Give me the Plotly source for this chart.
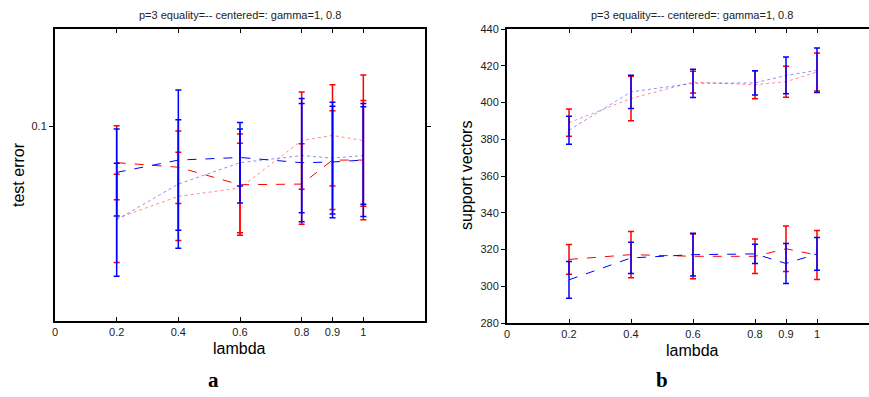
import plotly.graph_objects as go

lam = [0.2, 0.4, 0.6, 0.8, 0.9, 1.0]
xtick_vals = [0, 0.2, 0.4, 0.6, 0.8, 0.9, 1]
xtick_text = ["0", "0.2", "0.4", "0.6", "0.8", "0.9", "1"]

# (a) test error
err_red_eq = [0.0944, 0.0937, 0.0910, 0.0911, 0.0948, 0.0948]
err_red_eq_sd = [0.0057, 0.0056, 0.0078, 0.0062, 0.0076, 0.0092]
err_red_ce = [0.0858, 0.0892, 0.0905, 0.0978, 0.0986, 0.0978]
err_red_ce_sd = [0.0068, 0.0068, 0.0069, 0.0075, 0.0078, 0.0101]
err_blue_eq = [0.0929, 0.0948, 0.0952, 0.0944, 0.0945, 0.0948]
err_blue_eq_sd = [0.0067, 0.0108, 0.0044, 0.0091, 0.0086, 0.0087]
err_blue_ce = [0.0856, 0.0911, 0.0944, 0.0955, 0.0951, 0.0955]
err_blue_ce_sd = [0.0087, 0.0099, 0.0062, 0.0088, 0.0086, 0.0075]

# (b) support vectors
sv_red_eq = [314.6, 317.2, 316.3, 316.3, 320.4, 317.0]
sv_red_eq_sd = [8.1, 12.6, 12.2, 9.4, 12.4, 13.3]
sv_red_ce = [389.0, 402.2, 411.1, 409.7, 411.3, 416.6]
sv_red_ce_sd = [7.4, 12.1, 5.9, 7.6, 8.4, 10.3]
sv_blue_eq = [303.5, 315.4, 317.2, 317.6, 312.4, 317.6]
sv_blue_eq_sd = [10.0, 8.5, 11.6, 5.2, 10.9, 8.9]
sv_blue_ce = [384.9, 405.8, 410.4, 410.7, 414.7, 417.5]
sv_blue_ce_sd = [7.6, 9.0, 7.7, 6.6, 10.0, 12.1]

RED = "#ff0000"
BLUE = "#0000ff"
RED_LIGHT = "rgba(255,0,0,0.45)"
BLUE_LIGHT = "rgba(0,0,255,0.45)"

fig = go.Figure()


def add_series(y, sd, color, linecolor, dash, xa, ya):
    fig.add_trace(go.Scatter(
        x=lam, y=y, mode="lines", xaxis=xa, yaxis=ya,
        line=dict(color=linecolor, width=1, dash=dash),
        error_y=dict(type="data", array=sd, symmetric=True, color=color,
                     thickness=1.5, width=3),
        showlegend=False, hoverinfo="skip"))


add_series(err_red_ce, err_red_ce_sd, RED, RED_LIGHT, "dot", "x", "y")
add_series(err_red_eq, err_red_eq_sd, RED, RED, "dash", "x", "y")
add_series(err_blue_ce, err_blue_ce_sd, BLUE, BLUE_LIGHT, "dot", "x", "y")
add_series(err_blue_eq, err_blue_eq_sd, BLUE, BLUE, "dash", "x", "y")

add_series(sv_red_ce, sv_red_ce_sd, RED, RED_LIGHT, "dot", "x2", "y2")
add_series(sv_red_eq, sv_red_eq_sd, RED, RED, "dash", "x2", "y2")
add_series(sv_blue_ce, sv_blue_ce_sd, BLUE, BLUE_LIGHT, "dot", "x2", "y2")
add_series(sv_blue_eq, sv_blue_eq_sd, BLUE, BLUE, "dash", "x2", "y2")

W, H = 869, 397


def fx(px):
    return px / W


def fy(py):
    return 1 - py / H


tickfont = dict(family="Liberation Sans, Arial, sans-serif", size=11, color="#222")

xcommon = dict(tickmode="array", tickvals=xtick_vals, ticktext=xtick_text,
               showgrid=False, zeroline=False, showline=True, linecolor="black",
               linewidth=2, mirror="ticks", ticks="inside", ticklen=4,
               tickcolor="black", tickfont=tickfont)

fig.update_layout(
    width=W, height=H, autosize=False,
    margin=dict(l=0, r=0, t=0, b=0, autoexpand=False),
    paper_bgcolor="white", plot_bgcolor="white",
    hovermode=False,
    xaxis=dict(domain=[fx(55), fx(425)], range=[0, 1.2], anchor="y", **xcommon),
    yaxis=dict(domain=[fy(321), fy(29)], range=[0.07, 0.115],
               tickmode="array", tickvals=[0.1], ticktext=["0.1"],
               showgrid=False, zeroline=False, showline=True, linecolor="black",
               linewidth=2, mirror="ticks", ticks="outside", ticklen=4,
               tickcolor="black", tickfont=tickfont, anchor="x"),
    xaxis2=dict(domain=[fx(507), 1.0], range=[0, (W - 507) / 310], anchor="y2", **xcommon),
    yaxis2=dict(domain=[fy(323), fy(29)], range=[280, 440],
                tickmode="array", tickvals=list(range(280, 441, 20)),
                showgrid=False, zeroline=False, showline=True, linecolor="black",
                linewidth=2, mirror=False, ticks="outside", ticklen=4,
                tickcolor="black", tickfont=tickfont, anchor="x2"),
)

title_text = "p=3 equality=-- centered=: gamma=1, 0.8"
labfont = dict(family="Liberation Sans, Arial, sans-serif", size=16, color="black")
tfont = dict(family="Liberation Sans, Arial, sans-serif", size=11, color="#222")
serif = dict(family="Liberation Serif, Times New Roman, serif", size=21, color="black")
annots = [
    dict(x=240, y=15, text=title_text, font=tfont),
    dict(x=692, y=15, text=title_text, font=tfont),
    dict(x=240, y=348, text="lambda", font=labfont),
    dict(x=692, y=350, text="lambda", font=labfont),
    dict(x=18, y=175, text="test error", font=labfont, textangle=-90),
    dict(x=466, y=175, text="support vectors", font=labfont, textangle=-90),
    dict(x=213, y=380, text="<b>a</b>", font=serif),
    dict(x=662, y=380, text="<b>b</b>", font=serif),
]
for a in annots:
    fig.add_annotation(x=fx(a["x"]), y=fy(a["y"]), xref="paper", yref="paper",
                       text=a["text"], showarrow=False, font=a["font"],
                       textangle=a.get("textangle", 0), xanchor="center", yanchor="middle")

# remove the browser's default 8px body margin so the figure fills the window exactly
fig.write_html("out.html", config={"displayModeBar": False, "staticPlot": True},
               post_script="document.body.style.margin='0px';")
